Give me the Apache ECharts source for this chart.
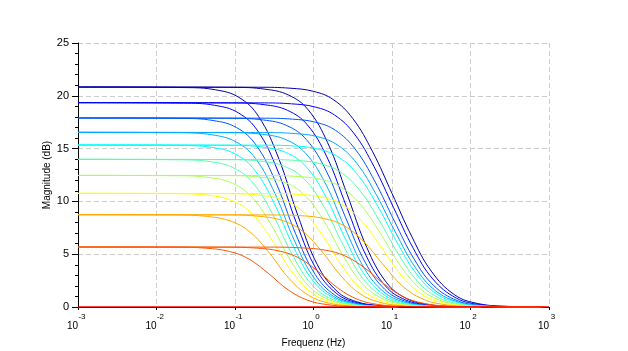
<!DOCTYPE html>
<html>
<head>
<meta charset="utf-8">
<script src="https://cdn.jsdelivr.net/npm/echarts@6/dist/echarts.min.js"></script>
<style>
html, body { margin: 0; padding: 0; background: #fff; }
#chart { width: 628px; height: 351px; }
</style>
</head>
<body>
<div id="chart"></div>
<script>
'use strict';

// DC level of each family, dB (read at the left edge)
var dcLevels = [20.83, 19.35, 17.9, 16.54, 15.34, 13.98, 12.46, 10.76, 8.74, 5.68];
var lineColors = ['#0000aa', '#0000ff', '#0055ff', '#00aaff', '#00ffff', '#55ffaa', '#aaff55', '#ffff00', '#ffaa00', '#ff5500'];
var zeroColor = '#ff0000';

// corner frequency of each curve, log10(Hz)
var earlyCorner = [-0.45, -0.46, -0.48, -0.49, -0.50, -0.52, -0.53, -0.54, -0.56, -0.57];
var midCorner = [0.18, 0.17, 0.16, 0.15, 0.14, 0.13, 0.12, 0.10, 0.09, 0.07];
var lateCorner = [0.50, 0.52, 0.53, 0.55, 0.57, 0.58, 0.60, 0.62, 0.63, 0.65];

// decades from the corner where the magnitudes were read
var earlyOffsets = [-1.2, -0.8, -0.5, -0.25, 0, 0.25, 0.5, 0.75, 1.0, 1.3, 1.6];
var midOffsets = [-1.2, -0.8, -0.5, -0.25, 0, 0.25, 0.5, 0.75, 1.0, 1.3, 1.6, 2.0];
var lateOffsets = [-1.2, -0.8, -0.5, -0.25, 0, 0.25, 0.5, 0.75, 1.0, 1.3, 1.6, 2.0, 2.3];

// magnitudes, dB
var earlyDb = [
    [20.78, 20.57, 19.85, 18.05, 14.20, 8.69, 3.99, 1.49, 0.50, 0.13, 0.03],
    [19.31, 19.10, 18.40, 16.67, 12.98, 7.81, 3.52, 1.30, 0.43, 0.11, 0.03],
    [17.86, 17.66, 16.99, 15.32, 11.81, 6.98, 3.10, 1.13, 0.38, 0.10, 0.02],
    [16.50, 16.30, 15.65, 14.07, 10.73, 6.24, 2.72, 0.98, 0.33, 0.08, 0.02],
    [15.30, 15.12, 14.50, 12.97, 9.81, 5.62, 2.42, 0.87, 0.29, 0.07, 0.02],
    [13.94, 13.77, 13.18, 11.74, 8.78, 4.95, 2.10, 0.75, 0.25, 0.06, 0.02],
    [12.43, 12.26, 11.71, 10.37, 7.67, 4.24, 1.77, 0.62, 0.20, 0.05, 0.01],
    [10.73, 10.58, 10.08, 8.87, 6.46, 3.50, 1.44, 0.50, 0.16, 0.04, 0.01],
    [8.72, 8.58, 8.15, 7.11, 5.09, 2.69, 1.09, 0.38, 0.12, 0.03, 0.01],
    [5.67, 5.57, 5.26, 4.53, 3.15, 1.61, 0.63, 0.22, 0.07, 0.02, 0.00]
];
var midDb = [
    [20.80, 20.63, 20.08, 18.69, 15.56, 10.64, 5.62, 2.32, 0.82, 0.22, 0.05, 0.01],
    [19.32, 19.16, 18.62, 17.26, 14.22, 9.51, 4.87, 1.96, 0.68, 0.18, 0.05, 0.01],
    [17.87, 17.71, 17.18, 15.85, 12.92, 8.45, 4.21, 1.66, 0.57, 0.15, 0.04, 0.01],
    [16.50, 16.35, 15.84, 14.55, 11.72, 7.50, 3.63, 1.40, 0.48, 0.12, 0.03, 0.00],
    [15.31, 15.16, 14.66, 13.41, 10.69, 6.71, 3.17, 1.20, 0.41, 0.10, 0.03, 0.00],
    [13.95, 13.81, 13.32, 12.13, 9.54, 5.85, 2.69, 1.00, 0.34, 0.09, 0.02, 0.00],
    [12.44, 12.30, 11.84, 10.71, 8.30, 4.95, 2.22, 0.81, 0.27, 0.07, 0.02, 0.00],
    [10.73, 10.60, 10.18, 9.13, 6.95, 4.02, 1.75, 0.63, 0.21, 0.05, 0.01, 0.00],
    [8.72, 8.60, 8.22, 7.30, 5.42, 3.03, 1.27, 0.45, 0.15, 0.04, 0.01, 0.00],
    [5.66, 5.58, 5.29, 4.62, 3.30, 1.74, 0.70, 0.24, 0.08, 0.02, 0.00, 0.00]
];
var lateDb = [
    [20.81, 20.72, 20.42, 19.65, 17.85, 14.75, 10.76, 6.70, 3.40, 1.14, 0.32, 0.05, 0.01],
    [19.33, 19.24, 18.94, 18.17, 16.39, 13.31, 9.41, 5.57, 2.65, 0.84, 0.23, 0.04, 0.01],
    [17.88, 17.79, 17.49, 16.73, 14.96, 11.92, 8.14, 4.56, 2.04, 0.61, 0.16, 0.03, 0.01],
    [16.52, 16.43, 16.13, 15.37, 13.62, 10.63, 6.99, 3.71, 1.57, 0.45, 0.12, 0.02, 0.00],
    [15.32, 15.24, 14.94, 14.19, 12.46, 9.53, 6.04, 3.05, 1.23, 0.35, 0.09, 0.01, 0.00],
    [13.96, 13.88, 13.58, 12.84, 11.14, 8.30, 5.03, 2.39, 0.93, 0.25, 0.07, 0.01, 0.00],
    [12.45, 12.36, 12.08, 11.35, 9.69, 6.99, 4.00, 1.79, 0.66, 0.18, 0.05, 0.01, 0.00],
    [10.74, 10.66, 10.38, 9.68, 8.10, 5.59, 2.99, 1.25, 0.45, 0.12, 0.03, 0.00, 0.00],
    [8.72, 8.65, 8.38, 7.73, 6.27, 4.08, 2.01, 0.79, 0.27, 0.07, 0.02, 0.00, 0.00],
    [5.67, 5.60, 5.38, 4.84, 3.71, 2.17, 0.95, 0.35, 0.11, 0.03, 0.01, 0.00, 0.00]
];

var fMin = 0.001, fMax = 1000;
var font = 'Liberation Sans, Arial, sans-serif';

function curve(level, corner, offsets, db) {
    var pts = [[fMin, level]];
    for (var i = 0; i < offsets.length; i++) {
        pts.push([Math.pow(10, corner + offsets[i]), db[i]]);
    }
    return pts;
}

function lineSeries(data, color, width) {
    return {
        type: 'line',
        data: data,
        showSymbol: false,
        smooth: 0.4,
        silent: true,
        lineStyle: { color: color, width: width || 1 },
        emphasis: { disabled: true }
    };
}

var series = [];
for (var k = 0; k < dcLevels.length; k++) {
    series.push(lineSeries(curve(dcLevels[k], earlyCorner[k], earlyOffsets, earlyDb[k]), lineColors[k]));
    series.push(lineSeries(curve(dcLevels[k], midCorner[k], midOffsets, midDb[k]), lineColors[k]));
    series.push(lineSeries(curve(dcLevels[k], lateCorner[k], lateOffsets, lateDb[k]), lineColors[k]));
}
series.push(lineSeries([[fMin, 0], [fMax, 0]], zeroColor, 1.5));

var gridLine = { show: true, lineStyle: { color: '#cccccc', width: 1, type: [5, 3] } };

var chart = echarts.init(document.getElementById('chart'));
chart.setOption({
    animation: false,
    backgroundColor: '#ffffff',
    grid: { left: 78, right: 79, top: 43, bottom: 44, containLabel: false, outerBoundsMode: 'none' },
    xAxis: {
        type: 'log',
        logBase: 10,
        min: fMin,
        max: fMax,
        name: 'Frequenz (Hz)',
        nameLocation: 'middle',
        nameGap: 31,
        nameMoveOverlap: false,
        nameTextStyle: { color: '#000', fontSize: 10, fontFamily: font },
        axisLine: { lineStyle: { color: '#000', width: 1 } },
        axisTick: { show: true, inside: false, length: 3, lineStyle: { color: '#000' } },
        axisLabel: {
            margin: 5,
            color: '#000',
            fontFamily: font,
            formatter: function (v) {
                var e = Math.round(Math.log10(v));
                return '{e|' + e + '}\n{b|10}';
            },
            rich: {
                e: { fontSize: 8, lineHeight: 9, padding: [0, 0, 0, 8], align: 'center', fontFamily: font, color: '#000' },
                b: { fontSize: 10, lineHeight: 11, padding: [0, 11, 0, 0], align: 'center', fontFamily: font, color: '#000' }
            }
        },
        splitLine: gridLine
    },
    yAxis: {
        type: 'value',
        min: 0,
        max: 25,
        interval: 5,
        name: 'Magnitude (dB)',
        nameLocation: 'middle',
        nameGap: 26,
        nameMoveOverlap: false,
        nameTextStyle: { color: '#000', fontSize: 10, fontFamily: font },
        axisLine: { show: true, lineStyle: { color: '#000', width: 1 } },
        axisTick: { show: true, inside: false, length: 6, lineStyle: { color: '#000' } },
        minorTick: { show: true, splitNumber: 5, length: 3, lineStyle: { color: '#000' } },
        axisLabel: { margin: 9, color: '#000', fontSize: 11, fontFamily: font },
        splitLine: gridLine
    },
    series: series
});
</script>
</body>
</html>
